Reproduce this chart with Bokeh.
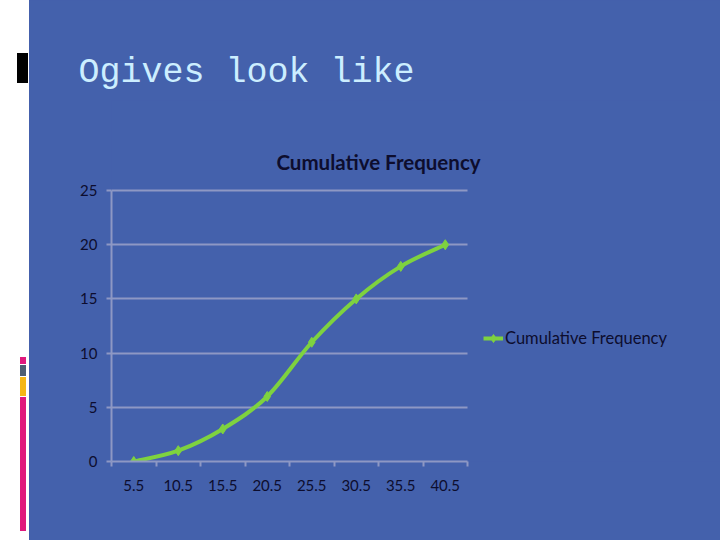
from bokeh.plotting import figure
from bokeh.layouts import row
from bokeh.models import (Range1d, FixedTicker, Legend, LegendItem, Label, Div, Grid)
from bokeh.embed import file_html
from bokeh.resources import INLINE

# ---- data ----
classes = ["5.5", "10.5", "15.5", "20.5", "25.5", "30.5", "35.5", "40.5"]
cum_freq = [0, 1, 3, 6, 11, 15, 18, 20]
y_ticks = [0, 5, 10, 15, 20, 25]
series_name = "Cumulative Frequency"
chart_title = "Cumulative Frequency"
slide_title = "Ogives look like"

BLUE = "#4461AC"
GREEN = "#7ED23F"
GRID = "#8E98C4"
TXT = "#0D0D2E"

xs = [i + 0.5 for i in range(len(classes))]
y_max = y_ticks[-1]
n_cat = len(classes)

# ---- layout geometry (pixels) ----
STRIP_W = 29
FIG_W, FIG_H = 720 - STRIP_W, 540
PLOT_L, PLOT_R, PLOT_T, PLOT_B = 111 - STRIP_W, 467 - STRIP_W, 190, 461   # chart area
FRAME_T = 100
ppx = (PLOT_R - PLOT_L) / n_cat
ppy = (PLOT_B - PLOT_T) / y_max
x_end = n_cat + (FIG_W - PLOT_R) / ppx
y_end = y_max + (PLOT_T - FRAME_T) / ppy

# ---- left decorative strip (HTML) ----
def bar(l, t, w, h, c):
    return (f'<div style="position:absolute;left:{l}px;top:{t}px;width:{w}px;'
            f'height:{h}px;background:{c};"></div>')

strip_html = ('<div style="position:relative;width:29px;height:540px;background:#FFFFFF;">'
              + bar(17, 53, 11, 30, "#000000")
              + bar(20, 357, 6, 7, "#E0197D")
              + bar(20, 365, 6, 11, "#4D5E72")
              + bar(20, 377, 6, 19, "#F5B715")
              + bar(20, 397, 6, 134, "#E0197D")
              + '</div>')
strip = Div(text=strip_html, width=STRIP_W, height=540,
            styles={"background": "#FFFFFF", "margin": "0", "padding": "0"})

# ---- main chart ----
p = figure(width=FIG_W, height=FIG_H, output_backend="svg", toolbar_location=None,
           x_range=Range1d(0, x_end), y_range=Range1d(0, y_end),
           min_border_left=PLOT_L, min_border_right=0, min_border_top=FRAME_T,
           min_border_bottom=FIG_H - PLOT_B)
p.background_fill_color = BLUE
p.border_fill_color = BLUE
p.outline_line_color = None
p.styles = {"background": BLUE}

p.title.text = slide_title
p.title.align = "left"
p.title.offset = -33
p.title.standoff = 16
p.title.text_font = "Liberation Mono"
p.title.text_font_style = "normal"
p.title.text_font_size = "35px"
p.title.text_color = "#CCEEFF"

# axes
p.xaxis.bounds = (0, n_cat)
p.xaxis.ticker = FixedTicker(ticks=xs, minor_ticks=list(range(n_cat + 1)))
p.xaxis.major_label_overrides = {x: c for x, c in zip(xs, classes)}
p.xaxis.major_tick_line_color = None
p.xaxis.major_tick_out = 5
p.xaxis.major_tick_in = 0
p.xaxis.minor_tick_line_color = GRID
p.xaxis.minor_tick_line_width = 2
p.xaxis.minor_tick_out = 5
p.xaxis.minor_tick_in = 0
p.xaxis.major_label_standoff = 13
p.xaxis.axis_line_color = GRID
p.xaxis.axis_line_width = 2

p.yaxis.bounds = (0, y_max)
p.yaxis.ticker = FixedTicker(ticks=y_ticks)
p.yaxis.major_tick_line_color = GRID
p.yaxis.major_tick_line_width = 2
p.yaxis.major_tick_out = 5
p.yaxis.major_tick_in = 0
p.yaxis.minor_tick_line_color = None
p.yaxis.major_label_standoff = 9
p.yaxis.axis_line_color = GRID
p.yaxis.axis_line_width = 2

for ax in (p.xaxis, p.yaxis):
    ax.major_label_text_font = "Lato"
    ax.major_label_text_font_size = "15px"
    ax.major_label_text_color = TXT

p.xgrid.grid_line_color = None
if "cross_bounds" in Grid.properties():
    p.ygrid.ticker = FixedTicker(ticks=y_ticks)
    p.ygrid.cross_bounds = (0, n_cat)
    p.ygrid.grid_line_color = GRID
    p.ygrid.grid_line_width = 2
else:
    p.ygrid.grid_line_color = None
    p.segment(x0=[0] * len(y_ticks), x1=[n_cat] * len(y_ticks), y0=y_ticks, y1=y_ticks,
              line_color=GRID, line_width=2)

# smoothed line (Catmull-Rom style bezier through the data points)
n = len(xs)
x0, y0, x1, y1, cx0, cy0, cx1, cy1 = [], [], [], [], [], [], [], []
for i in range(n - 1):
    ip = max(i - 1, 0)
    inx = min(i + 2, n - 1)
    x0.append(xs[i]); y0.append(cum_freq[i])
    x1.append(xs[i + 1]); y1.append(cum_freq[i + 1])
    cx0.append(xs[i] + (xs[i + 1] - xs[ip]) / 6)
    cy0.append(cum_freq[i] + (cum_freq[i + 1] - cum_freq[ip]) / 6)
    cx1.append(xs[i + 1] - (xs[inx] - xs[i]) / 6)
    cy1.append(cum_freq[i + 1] - (cum_freq[inx] - cum_freq[i]) / 6)
line_r = p.bezier(x0=x0, y0=y0, x1=x1, y1=y1, cx0=cx0, cy0=cy0, cx1=cx1, cy1=cy1,
                  line_color=GREEN, line_width=4)
pts_r = p.scatter(xs, cum_freq, marker="diamond", size=10, fill_color=GREEN, line_color=GREEN)

legend = Legend(items=[LegendItem(label=series_name, renderers=[line_r, pts_r])],
                location=(483 - 111, PLOT_B - 348), orientation="vertical",
                background_fill_alpha=0, border_line_color=None,
                padding=0, margin=0, spacing=0,
                glyph_width=20, glyph_height=20, label_height=20, label_standoff=2,
                label_text_font="Lato", label_text_font_size="16.5px", label_text_color=TXT)
p.add_layout(legend, "center")

# chart title
p.add_layout(Label(x=378 - STRIP_W, y=161, x_units="canvas", y_units="canvas", text=chart_title,
                   text_align="center", text_baseline="middle", text_font="Lato",
                   text_font_style="bold", text_font_size="20.5px", text_color=TXT))

layout = row(strip, p, spacing=0, styles={"background": BLUE})
open("out.html", "w").write(file_html(layout, INLINE))
